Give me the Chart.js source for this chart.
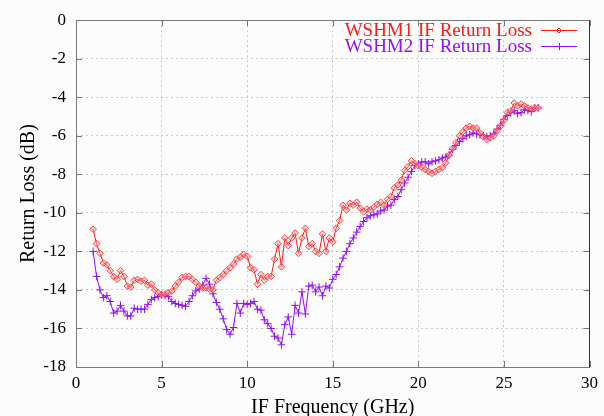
<!DOCTYPE html>
<html>
<head>
<meta charset="utf-8">
<title>IF Return Loss</title>
<script src="https://cdn.jsdelivr.net/npm/chart.js@4.4.1/dist/chart.umd.min.js"></script>
<style>
    html, body { margin: 0; padding: 0; background: #fcfcfc; }
    #wrap { width: 604px; height: 416px; }
</style>
</head>
<body>
<div id="wrap"><canvas id="rl-chart" width="604" height="416"></canvas></div>
<script>
    "use strict";

    // Frequency points (GHz)
    var freq = [
        1.0, 1.2, 1.4, 1.6, 1.8, 2.0, 2.2, 2.4, 2.6, 2.8,
        3.0, 3.2, 3.4, 3.6, 3.8, 4.0, 4.2, 4.4, 4.6, 4.8,
        5.0, 5.2, 5.4, 5.6, 5.8, 6.0, 6.2, 6.4, 6.6, 6.8,
        7.0, 7.2, 7.4, 7.6, 7.8, 8.0, 8.2, 8.4, 8.6, 8.8,
        9.0, 9.2, 9.4, 9.6, 9.8, 10.0, 10.2, 10.4, 10.6, 10.8,
        11.0, 11.2, 11.4, 11.6, 11.8, 12.0, 12.2, 12.4, 12.6, 12.8,
        13.0, 13.2, 13.4, 13.6, 13.8, 14.0, 14.2, 14.4, 14.6, 14.8,
        15.0, 15.2, 15.4, 15.6, 15.8, 16.0, 16.2, 16.4, 16.6, 16.8,
        17.0, 17.2, 17.4, 17.6, 17.8, 18.0, 18.2, 18.4, 18.6, 18.8,
        19.0, 19.2, 19.4, 19.6, 19.8, 20.0, 20.2, 20.4, 20.6, 20.8,
        21.0, 21.2, 21.4, 21.6, 21.8, 22.0, 22.2, 22.4, 22.6, 22.8,
        23.0, 23.2, 23.4, 23.6, 23.8, 24.0, 24.2, 24.4, 24.6, 24.8,
        25.0, 25.2, 25.4, 25.6, 25.8, 26.0, 26.2, 26.4, 26.6, 26.8,
        27.0
    ];

    // WSHM1 return loss (dB)
    var wshm1 = [
        -10.85, -11.6, -12.1, -12.6, -12.7, -13.0, -13.3, -13.45, -13.0, -13.3,
        -13.8, -13.85, -13.5, -13.45, -13.55, -13.5, -13.75, -13.7, -14.0, -14.15,
        -14.25, -14.2, -14.15, -14.05, -13.8, -13.6, -13.35, -13.3, -13.3, -13.45,
        -13.6, -13.8, -13.9, -13.9, -13.95, -14.0, -13.5, -13.35, -13.2, -13.0,
        -12.85, -12.65, -12.4, -12.3, -12.15, -12.25, -12.85, -12.95, -13.7, -13.2,
        -13.5, -13.3, -13.3, -12.4, -11.6, -12.8, -11.3, -11.7, -11.3, -11.05,
        -12.1, -11.3, -10.8, -11.75, -11.6, -12.0, -12.1, -11.1, -12.0, -11.3,
        -11.5, -10.8, -10.4, -9.6, -9.85, -9.5, -9.6, -9.45, -9.75, -9.95,
        -9.8, -9.85, -9.7, -9.55, -9.45, -9.6, -9.3, -9.15, -8.7, -8.55,
        -8.3, -7.8, -7.6, -7.3, -7.45, -7.55, -7.65, -7.75, -7.85, -7.95,
        -7.85, -7.75, -7.65, -7.4, -7.0, -6.65, -6.35, -6.0, -5.8, -5.6,
        -5.5, -5.6, -5.6, -5.85, -6.05, -6.2, -6.1, -6.0, -5.75, -5.5,
        -5.2, -4.8, -4.7, -4.3, -4.45, -4.35, -4.45, -4.55, -4.6, -4.55,
        -4.55
    ];

    // WSHM2 return loss (dB)
    var wshm2 = [
        -12.0, -13.3, -14.0, -14.4, -14.3, -14.6, -15.2, -15.1, -14.8, -15.1,
        -15.35, -15.35, -14.95, -15.0, -15.0, -15.0, -14.75, -14.5, -14.4, -14.35,
        -14.25, -14.3, -14.35, -14.6, -14.7, -14.75, -14.8, -14.85, -14.6, -14.3,
        -14.05, -13.95, -13.75, -13.4, -13.7, -14.2, -14.65, -15.0, -15.5, -16.05,
        -16.3, -15.95, -14.7, -15.2, -14.7, -14.75, -14.7, -14.6, -15.0, -15.05,
        -15.55, -15.75, -16.0, -16.4, -16.5, -16.85, -15.8, -15.4, -16.3, -14.8,
        -15.2, -14.1, -15.25, -13.8, -13.75, -14.1, -13.85, -14.3, -13.8, -13.9,
        -13.45, -13.2, -12.8, -12.35, -12.0, -11.6, -11.3, -11.0, -10.7, -10.45,
        -10.25, -10.15, -10.1, -10.05, -9.9, -9.85, -9.65, -9.6, -9.3, -9.15,
        -8.8, -8.45, -8.15, -7.85, -7.55, -7.45, -7.35, -7.35, -7.45, -7.35,
        -7.3, -7.25, -7.15, -7.1, -7.0, -6.7, -6.5, -6.3, -6.15, -6.0,
        -5.95, -5.85, -5.9, -5.95, -6.0, -6.05, -6.0, -5.9, -5.65, -5.45,
        -5.15, -4.95, -4.8, -4.7, -4.85, -4.8, -4.65, -4.7, -4.75, -4.55,
        -4.55
    ];

    var seriesNames = ["WSHM1 IF Return Loss", "WSHM2 IF Return Loss"];
    var xTicks = [0, 5, 10, 15, 20, 25, 30];
    var yTicks = [-18, -16, -14, -12, -10, -8, -6, -4, -2, 0];

    var RED = "#ff1a1a";
    var PURPLE = "#9010ff";
    var FONT = "'Liberation Serif', 'Times New Roman', serif";

    function toPoints(xs, ys) {
        return xs.map(function (x, i) {
            return {x: x, y: ys[i]};
        });
    }

    // Box with inward ticks, gnuplot style
    var framePlugin = {
        id: "frame",
        beforeDraw: function (chart) {
            var c = chart.ctx;
            c.save();
            c.fillStyle = "#fcfcfc";
            c.fillRect(0, 0, chart.width, chart.height);
            c.restore();
        },
        afterDraw: function (chart) {
            var c = chart.ctx, a = chart.chartArea;
            var xs = chart.scales.x, ys = chart.scales.y;
            var tl = 6;
            c.save();
            c.lineWidth = 1;
            c.strokeStyle = "#777";
            c.beginPath();
            xTicks.forEach(function (t) {
                var px = Math.round(xs.getPixelForValue(t)) + 0.5;
                c.moveTo(px, a.bottom); c.lineTo(px, a.bottom - tl);
                c.moveTo(px, a.top); c.lineTo(px, a.top + tl);
            });
            yTicks.forEach(function (t) {
                var py = Math.round(ys.getPixelForValue(t)) + 0.5;
                c.moveTo(a.left, py); c.lineTo(a.left + tl, py);
                c.moveTo(a.right, py); c.lineTo(a.right - tl, py);
            });
            c.stroke();

            var l = Math.round(a.left) + 0.5, r = Math.round(a.right) - 0.5;
            var t = Math.round(a.top) + 0.5, b = Math.round(a.bottom) + 0.5;
            c.strokeStyle = "#7a7a7a";
            c.beginPath();
            c.moveTo(r, t); c.lineTo(l, t); c.lineTo(l, b); c.lineTo(r, b);
            c.stroke();
            c.strokeStyle = "#333";
            c.beginPath();
            c.moveTo(r, t); c.lineTo(r, b);
            c.stroke();
            c.restore();
        }
    };

    // Legend in the top right corner, text left of the sample
    var keyPlugin = {
        id: "key",
        afterDraw: function (chart) {
            var c = chart.ctx;
            var rows = [30, 46];
            c.save();
            c.font = "19px " + FONT;
            c.textAlign = "right";
            c.textBaseline = "middle";
            chart.data.datasets.forEach(function (ds, i) {
                var y = rows[i];
                c.fillStyle = ds.borderColor;
                c.fillText(ds.label, 532, y + 1);
                c.strokeStyle = ds.borderColor;
                c.lineWidth = 1;
                c.beginPath();
                c.moveTo(541, y + 0.5); c.lineTo(577, y + 0.5);
                if (i === 0) {
                    c.moveTo(559, y - 2); c.lineTo(561.5, y + 0.5); c.lineTo(559, y + 3);
                    c.lineTo(556.5, y + 0.5); c.closePath();
                } else {
                    c.moveTo(559.5, y - 3); c.lineTo(559.5, y + 4);
                }
                c.stroke();
            });
            c.restore();
        }
    };

    var ctx = document.getElementById("rl-chart").getContext("2d");
    new Chart(ctx, {
        type: "line",
        data: {
            datasets: [{
                label: seriesNames[0],
                data: toPoints(freq, wshm1),
                borderColor: RED,
                backgroundColor: "rgba(255, 170, 170, 0.45)",
                borderWidth: 1,
                pointStyle: "rectRot",
                pointRadius: 3.3,
                pointBorderWidth: 1,
                pointBorderColor: "rgba(255, 40, 40, 0.85)",
                tension: 0,
                fill: false
            }, {
                label: seriesNames[1],
                data: toPoints(freq, wshm2),
                borderColor: PURPLE,
                backgroundColor: PURPLE,
                borderWidth: 1,
                pointStyle: "cross",
                pointRadius: 3.8,
                pointBorderWidth: 1,
                tension: 0,
                fill: false
            }]
        },
        options: {
            responsive: false,
            animation: false,
            devicePixelRatio: 1,
            layout: {padding: {top: 19, right: 11, left: 0, bottom: 0}},
            plugins: {
                legend: {display: false},
                tooltip: {enabled: false}
            },
            scales: {
                x: {
                    type: "linear",
                    min: 0,
                    max: 30,
                    afterBuildTicks: function (axis) {
                        axis.ticks = xTicks.map(function (v) { return {value: v}; });
                    },
                    afterFit: function (axis) { axis.height = 49; },
                    grid: {color: "#c8c8c8", drawTicks: false, lineWidth: 1},
                    border: {display: false, dash: [2, 3]},
                    ticks: {color: "#000", padding: 6, maxRotation: 0, font: {family: FONT, size: 17}},
                    title: {
                        display: true,
                        text: "IF Frequency (GHz)",
                        color: "#000",
                        font: {family: FONT, size: 20, lineHeight: 1},
                        padding: {top: 0, bottom: -2}
                    }
                },
                y: {
                    min: -18,
                    max: 0,
                    afterBuildTicks: function (axis) {
                        axis.ticks = yTicks.map(function (v) { return {value: v}; });
                    },
                    afterFit: function (axis) { axis.width = 76; },
                    grid: {color: "#c8c8c8", drawTicks: false, lineWidth: 1},
                    border: {display: false, dash: [2, 3]},
                    ticks: {color: "#000", padding: 10, font: {family: FONT, size: 17}},
                    title: {
                        display: true,
                        text: "Return Loss (dB)",
                        color: "#000",
                        font: {family: FONT, size: 20, lineHeight: 1},
                        padding: {top: 19, bottom: 0}
                    }
                }
            }
        },
        plugins: [framePlugin, keyPlugin]
    });
</script>
</body>
</html>
